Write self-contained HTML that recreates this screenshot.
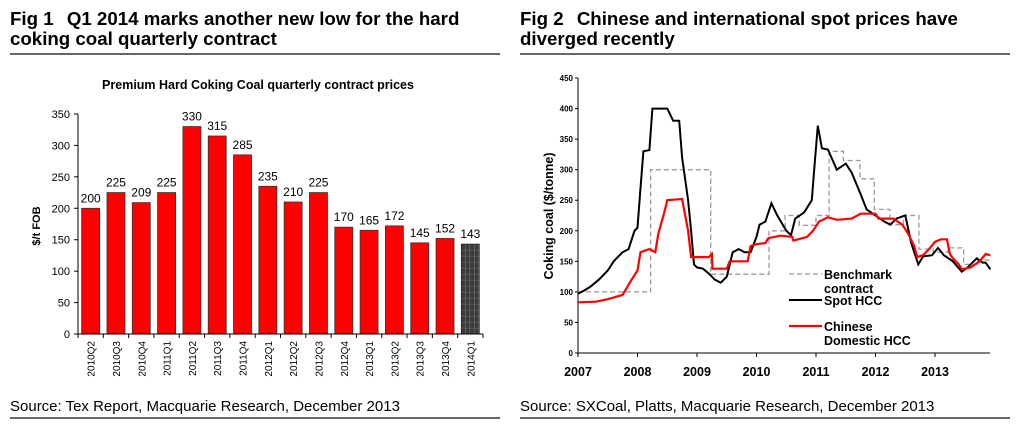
<!DOCTYPE html>
<html><head><meta charset="utf-8"><style>
body{margin:0;background:#fff;width:1036px;height:432px;overflow:hidden;font-family:"Liberation Sans",Arial,sans-serif}
svg{position:absolute;left:0;top:0}
</style></head><body>
<svg width="1036" height="432" id="root" font-family="Liberation Sans, Arial, sans-serif">
<g>
<text x="10" y="25" font-size="18.7" font-weight="bold">Fig 1 <tspan dx="8">Q1 2014 marks another new low for the hard</tspan></text>
<text x="10" y="45" font-size="18.7" font-weight="bold">coking coal quarterly contract</text>
<line x1="10" x2="500" y1="54" y2="54" stroke="#333" stroke-width="1.5"/>
<text x="10" y="411" font-size="15">Source: Tex Report, Macquarie Research, December 2013</text>
<line x1="10" x2="500" y1="418" y2="418" stroke="#333" stroke-width="1.5"/>
</g>
<g>
<text x="520" y="25" font-size="18.7" font-weight="bold">Fig 2 <tspan dx="8">Chinese and international spot prices have</tspan></text>
<text x="520" y="45" font-size="18.7" font-weight="bold">diverged recently</text>
<line x1="520" x2="1010" y1="54" y2="54" stroke="#333" stroke-width="1.5"/>
<text x="520" y="411" font-size="15">Source: SXCoal, Platts, Macquarie Research, December 2013</text>
<line x1="520" x2="1010" y1="418" y2="418" stroke="#333" stroke-width="1.5"/>
</g>
<text x="258" y="89" font-size="12.5" font-weight="bold" text-anchor="middle">Premium Hard Coking Coal quarterly contract prices</text>
<g id="c1"></g>
<g id="c2"></g>
</svg>
<script>
const NS="http://www.w3.org/2000/svg";
const quarters=["2010Q2","2010Q3","2010Q4","2011Q1","2011Q2","2011Q3","2011Q4","2012Q1","2012Q2","2012Q3","2012Q4","2013Q1","2013Q2","2013Q3","2013Q4","2014Q1"];
const prices=[200,225,209,225,330,315,285,235,210,225,170,165,172,145,152,143];
const yTicks1=[0,50,100,150,200,250,300,350];
const years=[2007,2008,2009,2010,2011,2012,2013];
const yTicks2=[0,50,100,150,200,250,300,350,400,450];
const benchT=[2007,2008.22,2008.22,2009.23,2009.23,2010.21,2010.21,2010.48,2010.48,2010.72,2010.72,2011.0,2011.0,2011.22,2011.22,2011.46,2011.46,2011.74,2011.74,2011.98,2011.98,2012.24,2012.24,2012.47,2012.47,2012.73,2012.73,2012.97,2012.97,2013.22,2013.22,2013.48,2013.48,2013.72,2013.72,2013.93];
const benchV=[100,100,300,300,129,129,200,200,225,225,209,209,225,225,330,330,315,315,285,285,235,235,210,210,225,225,170,170,165,165,172,172,145,145,152,152];
const spotT=[2007.0,2007.1,2007.2,2007.35,2007.5,2007.6,2007.75,2007.85,2007.95,2008.0,2008.05,2008.1,2008.2,2008.25,2008.5,2008.6,2008.7,2008.75,2008.85,2008.9,2008.95,2009.0,2009.1,2009.2,2009.3,2009.4,2009.5,2009.6,2009.7,2009.8,2009.9,2010.0,2010.05,2010.15,2010.25,2010.35,2010.5,2010.58,2010.65,2010.8,2010.93,2010.97,2011.03,2011.1,2011.2,2011.35,2011.5,2011.6,2011.75,2011.85,2012.0,2012.15,2012.25,2012.35,2012.5,2012.6,2012.72,2012.8,2012.95,2013.05,2013.15,2013.3,2013.45,2013.55,2013.7,2013.8,2013.85,2013.93];
const spotV=[97,102,108,120,135,150,165,170,200,205,270,330,332,400,400,380,380,320,250,200,145,140,138,130,120,115,125,165,170,165,165,190,210,215,245,225,200,193,220,230,250,300,372,335,333,300,310,295,260,235,225,215,210,220,225,180,145,158,160,172,160,150,133,140,155,148,148,137];
const chinaT=[2007.0,2007.3,2007.5,2007.75,2007.9,2008.0,2008.05,2008.2,2008.3,2008.35,2008.45,2008.5,2008.75,2008.85,2008.9,2009.2,2009.25,2009.26,2009.5,2009.55,2009.85,2009.9,2010.0,2010.15,2010.2,2010.4,2010.6,2010.62,2010.85,2010.95,2011.05,2011.2,2011.35,2011.6,2011.75,2012.0,2012.05,2012.3,2012.45,2012.55,2012.65,2012.7,2012.8,2012.9,2013.0,2013.1,2013.2,2013.25,2013.3,2013.4,2013.45,2013.6,2013.75,2013.85,2013.93];
const chinaV=[83,84,88,95,120,135,165,170,165,195,230,250,252,200,157,157,162,138,138,150,150,175,178,180,188,192,190,184,190,200,215,222,218,220,228,228,220,220,210,195,175,157,160,170,182,186,186,162,155,145,137,140,150,162,160];

function el(parent,tag,attrs,text){const e=document.createElementNS(NS,tag);for(const k in attrs)e.setAttribute(k,attrs[k]);if(text!==undefined)e.textContent=text;parent.appendChild(e);return e;}

// Chart 1
const c1=document.getElementById('c1');
const x0=78,x1=483,yb=334,yt=114,ymax=350;
const y1=v=>yb-(v/ymax)*(yb-yt);
const bw=(x1-x0)/quarters.length;
yTicks1.forEach(t=>{
  const tk=el(c1,'line',{x1:x0-4,x2:x0,y1:y1(t),y2:y1(t),stroke:'#000'});
  
  const lb=el(c1,'text',{x:x0-8,y:y1(t)+4,'font-size':11,'text-anchor':'end'},t);
  
});
quarters.forEach((q,i)=>{
  const cx=x0+bw*(i+0.5),h=yb-y1(prices[i]);
  const last=i===quarters.length-1;
  const r=el(c1,'rect',{x:cx-9,y:y1(prices[i]),width:18,height:h,fill:last?'#3a3a3a':'#ff0000',stroke:last?'#222':'#333','stroke-width':0.8});
  
  if(last){for(let yy=y1(prices[i])+6;yy<yb;yy+=6){const g=el(c1,'line',{x1:cx-9,x2:cx+9,y1:yy,y2:yy,stroke:'#777','stroke-width':0.6});}
    for(let xx=cx-5;xx<cx+9;xx+=4.5){const g=el(c1,'line',{x1:xx,x2:xx,y1:y1(prices[i]),y2:yb,stroke:'#777','stroke-width':0.6});}}
  const v=el(c1,'text',{x:cx,y:y1(prices[i])-6,'font-size':12,'text-anchor':'middle'},prices[i]);
  
  const xl=el(c1,'text',{x:0,y:0,'font-size':10,'text-anchor':'end',transform:`translate(${cx+4},${yb+7}) rotate(-90)`},q);
  
  const tk=el(c1,'line',{x1:x0+bw*(i+1),x2:x0+bw*(i+1),y1:yb,y2:yb+4,stroke:'#000'});
  
});
let a=el(c1,'line',{x1:x0,x2:x0,y1:yt,y2:yb+4,stroke:'#000'});
a=el(c1,'line',{x1:x0,x2:x1,y1:yb,y2:yb,stroke:'#000'});
a=el(c1,'text',{x:0,y:0,'font-size':11,'font-weight':'bold','text-anchor':'middle',transform:'translate(40,226) rotate(-90)'},'$/t FOB');

// Chart 2
const c2=document.getElementById('c2');
const X0=578,yrW=59.5,Yb=353,Yt=78,Ymax=450,Xend=990;
const px=t=>X0+(t-2007)*yrW, py=v=>Yb-(v/Ymax)*(Yb-Yt);
yTicks2.forEach(t=>{
  const tk=el(c2,'line',{x1:X0-3,x2:X0,y1:py(t),y2:py(t),stroke:'#000'});
  
  const lb=el(c2,'text',{x:X0-5,y:py(t)+3,'font-size':8,'font-weight':'bold','text-anchor':'end'},t);
  
});
years.forEach(yv=>{
  const tk=el(c2,'line',{x1:px(yv),x2:px(yv),y1:Yb,y2:Yb+4,stroke:'#000'});
  
  const lb=el(c2,'text',{x:px(yv),y:Yb+23,'font-size':12.5,'font-weight':'bold','text-anchor':'middle'},yv);
  
});
a=el(c2,'line',{x1:X0,x2:X0,y1:Yt,y2:Yb+4,stroke:'#000'});
a=el(c2,'line',{x1:X0,x2:Xend,y1:Yb,y2:Yb,stroke:'#000'});
a=el(c2,'text',{x:0,y:0,'font-size':12.5,'font-weight':'bold','text-anchor':'middle',transform:'translate(553,216) rotate(-90)'},'Coking coal ($/tonne)');
function pts(T,V){return T.map((t,i)=>px(t).toFixed(1)+','+py(V[i]).toFixed(1)).join(' ');}
let l=el(c2,'polyline',{points:pts(benchT,benchV),fill:'none',stroke:'#999','stroke-width':1.3,'stroke-dasharray':'5,3'});
l=el(c2,'polyline',{points:pts(spotT,spotV),fill:'none',stroke:'#000','stroke-width':2});
l=el(c2,'polyline',{points:pts(chinaT,chinaV),fill:'none',stroke:'#ff0000','stroke-width':2.2});
// legend
const lg=el(c2,'g',{});
let e=el(lg,'line',{x1:789,x2:822,y1:274,y2:274,stroke:'#999','stroke-width':1.3,'stroke-dasharray':'5,3'});
e=el(lg,'text',{x:824,y:279,'font-size':12.5,'font-weight':'bold'},'Benchmark');
e=el(lg,'text',{x:824,y:293,'font-size':12.5,'font-weight':'bold'},'contract');
e=el(lg,'line',{x1:789,x2:822,y1:300,y2:300,stroke:'#000','stroke-width':2});
e=el(lg,'text',{x:824,y:305,'font-size':12.5,'font-weight':'bold'},'Spot HCC');
e=el(lg,'line',{x1:789,x2:822,y1:326,y2:326,stroke:'#ff0000','stroke-width':2.2});
e=el(lg,'text',{x:824,y:331,'font-size':12.5,'font-weight':'bold'},'Chinese');
e=el(lg,'text',{x:824,y:345,'font-size':12.5,'font-weight':'bold'},'Domestic HCC');
</script>
</body></html>
